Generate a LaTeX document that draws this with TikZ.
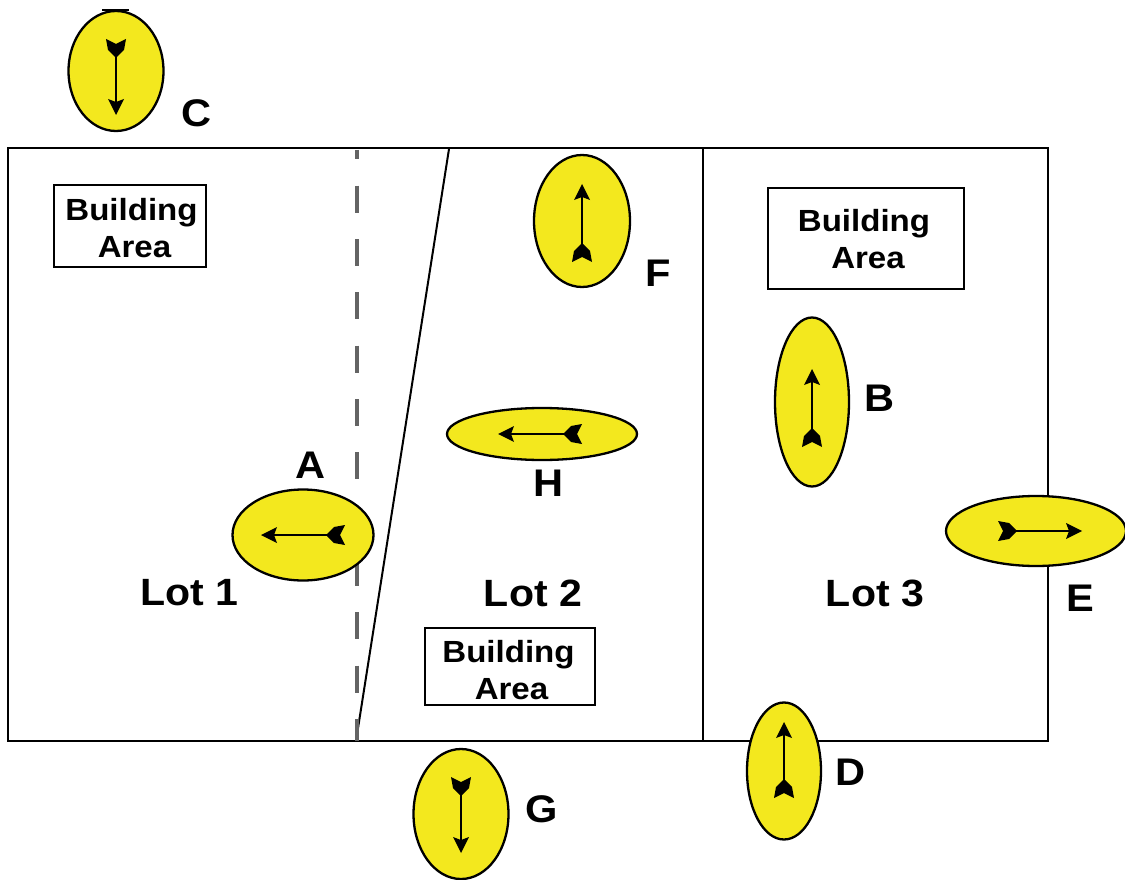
\documentclass[tikz,border=0pt]{standalone}
\usepackage{fontspec}
\setmainfont[FakeStretch=1.08]{Liberation Sans}
\usetikzlibrary{shapes.geometric}
\definecolor{eyeyellow}{RGB}{243,232,30}
\definecolor{dashgrey}{RGB}{100,100,100}
\tikzset{
  x=1pt,y=-1pt,
  eye/.style={ellipse,draw=black,line width=2.3pt,fill=eyeyellow,inner sep=0pt},
  shaft/.style={draw=black,line width=2.8pt},
  boxarea/.style={draw=black,line width=1.6pt,fill=white,inner sep=0pt},
  boxtext/.style={inner sep=0pt,align=center,font=\fontsize{30.6}{37}\selectfont\bfseries},
  lotlabel/.style={inner sep=0pt,font=\fontsize{38}{44}\selectfont\bfseries},
  letter/.style={inner sep=0pt,font=\fontsize{38.5}{44}\selectfont\bfseries},
  boundary/.style={draw=black,line width=2pt},
}
% name, x, y, width, height, rotation of the arrow, half length, centre offset
\newcommand{\eyeball}[8]{%
  \node[eye,minimum width=#4pt,minimum height=#5pt] (#1) at (#2,#3) {};
  \begin{scope}[shift={(#2,#3)},rotate=#6]
    \coordinate (#1tail) at (#8-#7,0);
    \coordinate (#1head) at (#8+#7,0);
    \draw[shaft] ([xshift=8pt]#1tail) -- ([xshift=-6pt]#1head);
    \fill[black] (#1head) -- ++(-16,-8) -- ++(3,8) -- ++(-3,8) -- cycle;
    \begin{scope}[shift={(#1tail)}]
      \fill[black] (0,-10) -- (11,-8) -- (18,-1) -- (18,1) -- (11,8) -- (0,10) -- (5,0) -- cycle;
    \end{scope}
  \end{scope}
}
\begin{document}
\begin{tikzpicture}
\useasboundingbox (0,0) rectangle (1125,880);
\fill[white] (0,0) rectangle (1125,880);
\coordinate (tl) at (8,148);
\coordinate (br) at (1048,741);
\draw[boundary] (tl) rectangle (br);
\coordinate (divT) at (703,148);
\coordinate (divB) at (703,741);
\draw[boundary] (divT) -- (divB);
\coordinate (slantT) at (449,149);
\coordinate (slantB) at (356,741);
\draw[boundary] (slantT) -- (slantB);
\coordinate (dashT) at (357,150);
\coordinate (dashB) at (357,741);
\draw[dashgrey,line width=3.2pt,dash pattern=on 27pt off 26.33pt,dash phase=17.6pt] (dashT) -- (dashB);

\node[boxarea,minimum width=152pt,minimum height=82pt] (b1) at (130,226) {};
\node[boxarea,minimum width=196pt,minimum height=101pt] (b3) at (866,238.5) {};
\node[boxarea,minimum width=170pt,minimum height=77pt] (b2) at (510,666.5) {};
\node[boxtext] (t1) at ([shift={(2,2)}]b1.center) {\hspace*{-1pt}Building\\\hspace*{5pt}Area};
\node[boxtext] (t3) at ([shift={(-1,0.5)}]b3.center) {\hspace*{-2pt}Building\\\hspace*{6pt}Area};
\node[boxtext] (t2) at ([shift={(0,3.5)}]b2.center) {\hspace*{-3pt}Building\\\hspace*{3pt}Area};

\coordinate (capL) at (102,10);
\coordinate (capR) at (129,10);
\draw[line width=1.5pt] (capL) -- (capR);
\eyeball{C}{116}{71}{95}{120}{-90}{38}{6}
\eyeball{F}{582}{221}{96}{132}{90}{39}{-2}
\eyeball{B}{812}{402}{74}{169}{90}{39}{-6}
\eyeball{H}{542}{434}{190}{52}{180}{42}{2}
\eyeball{A}{303}{535}{141}{91}{180}{42}{0}
\eyeball{E}{1036}{531}{180}{70}{0}{42}{4}
\eyeball{D}{784}{771}{74}{137}{90}{38}{11}
\eyeball{G}{461}{814}{95}{130}{-90}{38}{1}

\node[lotlabel] (l1) at (189.5,593) {Lot 1};
\node[lotlabel] (l2) at (533,593) {Lot 2};
\node[lotlabel] (l3) at (875,593) {Lot 3};
\node[letter] (tC) at (196.5,113) {C};
\node[letter] (tA) at (311,465) {A};
\node[letter] (tF) at (658.5,273) {F};
\node[letter] (tB) at (880,398) {B};
\node[letter] (tH) at (548.5,483) {H};
\node[letter] (tE) at (1080.5,598) {E};
\node[letter] (tD) at (851,772) {D};
\node[letter] (tG) at (541.5,809) {G};
\end{tikzpicture}
\end{document}
